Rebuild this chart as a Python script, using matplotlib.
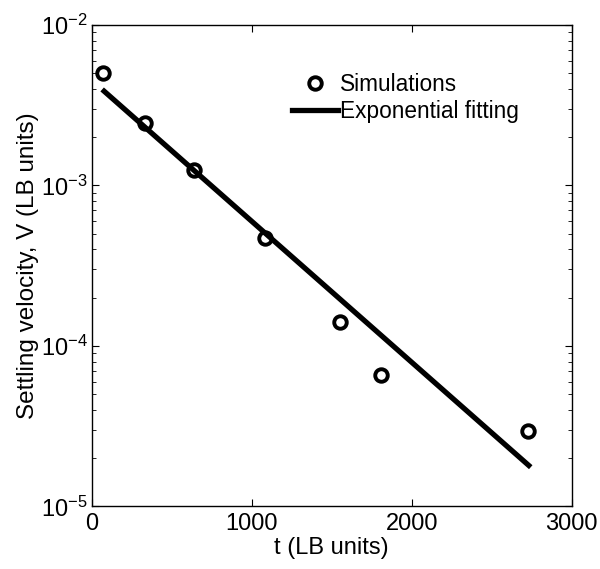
import matplotlib
matplotlib.use("Agg")
import matplotlib.pyplot as plt
import numpy as np

plt.rcParams['font.family'] = ['Liberation Sans', 'DejaVu Sans']
plt.rcParams['mathtext.fontset'] = 'custom'
plt.rcParams['mathtext.rm'] = 'Liberation Sans'
plt.rcParams['axes.unicode_minus'] = False

# simulation results
t_sim = [67, 331, 638, 1081, 1550, 1806, 2727]
v_sim = [5.0e-3, 2.46e-3, 1.25e-3, 4.7e-4, 1.42e-4, 6.6e-5, 2.94e-5]

# exponential fit (end points)
t_fit = [77, 2731]
v_fit = [3.87e-3, 1.80e-5]

fig = plt.figure(figsize=(6.0, 5.69), dpi=100)
ax = fig.add_axes([0.153, 0.110, 0.800, 0.846])

ax.plot(t_sim, v_sim, 'o', mfc='white', mec='black', mew=2.8, ms=9,
        label='Simulations')
ax.plot(t_fit, v_fit, '-', color='black', lw=3.8, label='Exponential fitting')

ax.set_yscale('log')
ax.set_xlim(0, 3000)
ax.set_ylim(1e-5, 1e-2)
ax.set_xticks([0, 1000, 2000, 3000])

ax.tick_params(which='both', direction='in', top=True, right=True,
               labelsize=17)
ax.tick_params(which='major', length=5)
ax.tick_params(which='minor', length=3)
ax.tick_params(axis='x', pad=5)
ax.tick_params(axis='y', pad=3)
for s in ax.spines.values():
    s.set_linewidth(1.0)

ax.set_xlabel('t (LB units)', fontsize=17, labelpad=1)
ax.set_ylabel('Settling velocity, V (LB units)', fontsize=17.5, labelpad=1)

ax.legend(loc='upper left', bbox_to_anchor=(0.418, 0.90), frameon=False,
          fontsize=16.3, handlelength=2.0, handletextpad=0.12,
          labelspacing=0.18, borderaxespad=0, borderpad=0)

fig.savefig('out.png', dpi=100)
